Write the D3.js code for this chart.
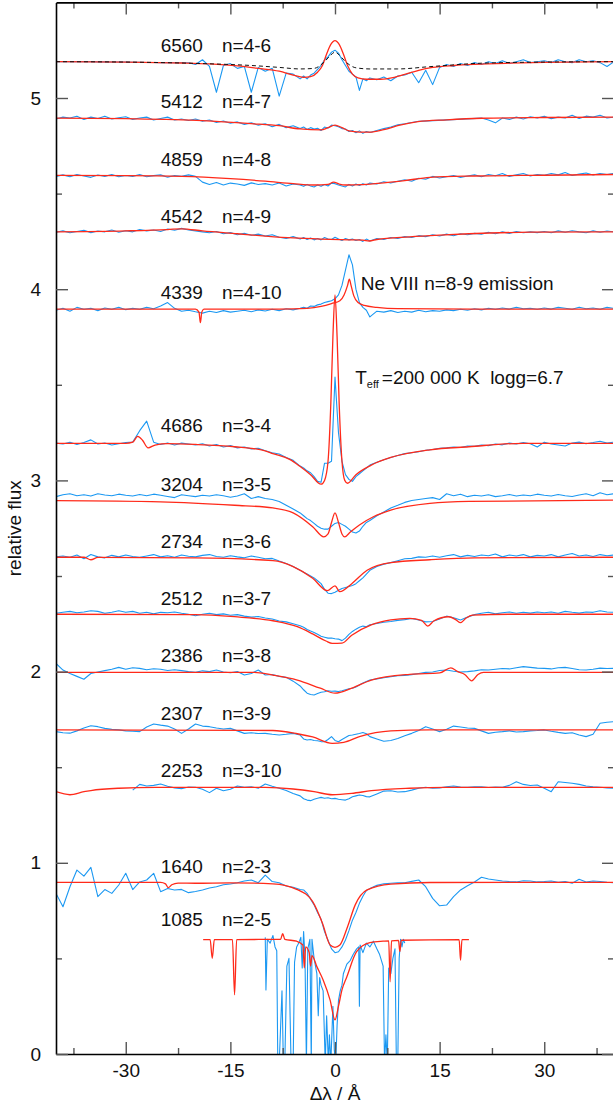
<!DOCTYPE html>
<html>
<head>
<meta charset="utf-8">
<script src="https://cdn.jsdelivr.net/npm/d3@7"></script>
<style>
    body { margin: 0; background: #fff; }
    #chart { width: 613px; height: 1108px; }
    text { font-family: "Liberation Sans", Arial, sans-serif; }
</style>
</head>
<body>
<div id="chart"></div>
<script>
// wavelength offsets (A) at which the observed spectra are sampled
const waveGrid = [
    -40,-39,-38,-37,-36,-35,-34,-33,-32,-31,
    -30,-29,-28,-27,-26,-25,-24,-23,-22,-21,
    -20,-19,-18,-17,-16,-15,-14,-13,-12,-11,
    -10,-9,-8,-7,-6,-5,-4.5,-4,-3.5,-3,
    -2.5,-2,-1.5,-1,-0.5,0,0.5,1,1.5,2,
    2.5,3,3.5,4,4.5,5,6,7,8,9,
    10,11,12,13,14,15,16,17,18,19,
    20,21,22,23,24,25,26,27,28,29,
    30,31,32,33,34,35,36,37,38,39,
    40];

// observed spectra (blue), one value per waveGrid entry, null = no data
const obs6560 = [
    5.19,5.19,5.19,5.19,5.19,5.19,5.189,5.189,5.188,5.188,
    5.188,5.187,5.187,5.186,5.186,5.185,5.185,5.184,5.184,5.184,
    5.175,5.2,5.165,5.03,5.17,5.18,5.155,5.165,5.03,5.16,
    5.14,5.155,5.01,5.13,5.125,5.1,5.115,5.1,5.12,5.13,
    5.15,5.17,5.2,5.215,5.24,5.25,5.235,5.2,5.17,5.14,
    5.125,5.11,5.04,5.1,5.09,5.105,5.095,5.11,5.09,5.115,
    5.12,5.135,5.08,5.145,5.07,5.16,5.175,5.165,5.18,5.17,
    5.185,5.175,5.19,5.18,5.195,5.18,5.19,5.2,5.185,5.19,
    5.195,5.185,5.2,5.19,5.185,5.2,5.19,5.195,5.185,5.165,
    5.19];
const obs5412 = [
    4.89,4.9,4.895,4.905,4.888,4.9,4.893,4.905,4.89,4.897,
    4.902,4.888,4.895,4.9,4.885,4.893,4.9,4.885,4.89,4.882,
    4.89,4.878,4.885,4.872,4.88,4.868,4.875,4.862,4.87,4.858,
    4.865,4.85,4.862,4.845,4.855,4.84,4.848,4.835,4.845,4.838,
    4.842,4.83,4.848,4.842,4.858,4.855,4.85,4.84,4.838,4.825,
    4.83,4.818,4.828,4.815,4.825,4.82,4.83,4.84,4.848,4.86,
    4.865,4.872,4.878,null,null,null,null,null,null,null,
    null,4.895,4.885,4.87,4.895,4.888,4.9,4.89,4.902,4.895,
    4.905,4.892,4.9,4.895,4.91,4.893,4.905,4.9,4.91,4.895,
    4.9];
const obs4859 = [
    4.59,4.598,4.588,4.6,4.592,4.585,4.597,4.59,4.6,4.588,
    4.595,4.59,4.6,4.588,4.594,4.598,4.586,4.595,4.59,4.598,
    4.59,4.56,4.548,4.558,4.545,4.555,4.55,4.543,4.556,4.548,
    4.552,4.545,4.555,4.54,4.55,4.545,4.538,4.548,4.54,4.535,
    4.545,4.538,4.548,4.54,4.555,4.552,4.545,4.54,4.535,4.548,
    4.54,4.55,4.542,4.552,4.545,4.555,4.55,4.562,4.555,4.565,
    4.572,4.565,4.58,4.575,4.59,4.582,4.588,4.595,4.585,4.592,
    4.598,4.588,4.6,4.593,4.605,4.59,4.598,4.605,4.592,4.6,
    4.596,4.605,4.598,4.61,4.595,4.602,4.608,4.597,4.605,4.6,
    4.605];
const obs4542 = [
    4.298,4.305,4.295,4.302,4.308,4.296,4.304,4.3,4.31,4.298,
    4.306,4.3,4.312,4.305,4.31,4.302,4.315,4.308,4.318,4.31,
    4.305,4.3,4.295,4.302,4.29,4.296,4.285,4.292,4.282,4.288,
    4.278,4.285,4.272,4.265,4.275,4.262,4.27,4.26,4.268,4.258,
    4.265,4.258,4.27,4.262,4.26,4.272,4.262,4.255,4.265,4.258,
    4.262,4.255,4.26,4.25,4.262,4.252,4.265,4.26,4.27,4.265,
    4.275,4.27,4.28,4.275,4.285,4.278,4.288,4.28,4.29,4.285,
    4.292,4.288,4.298,4.29,4.3,4.292,4.302,4.295,4.3,4.296,
    4.302,4.295,4.305,4.298,4.306,4.3,4.295,4.305,4.298,4.304,
    4.3];
const obs4339 = [
    3.89,3.9,3.885,3.905,3.895,3.9,3.888,3.902,3.895,3.905,
    3.893,3.9,3.895,3.905,3.898,3.912,3.93,3.9,3.885,3.89,
    3.882,3.875,3.885,3.878,3.888,3.88,3.885,3.89,3.882,3.892,
    3.886,3.895,3.888,3.898,3.892,3.9,3.905,3.9,3.912,3.91,
    3.918,3.922,3.93,3.935,3.94,3.95,3.97,4.02,4.1,4.18,
    4.127,4.0,3.93,3.905,3.89,3.855,3.885,3.88,3.888,3.878,
    3.885,3.88,3.89,3.882,3.888,3.885,3.892,3.888,3.895,3.89,
    3.898,3.892,3.9,3.895,3.902,3.896,3.905,3.898,3.9,3.895,
    3.902,3.896,3.905,3.9,3.895,3.906,3.898,3.902,3.895,3.905,
    3.9];
const obs4686 = [
    3.195,3.19,3.2,3.188,3.198,3.212,3.19,3.196,3.185,3.192,
    3.198,3.2,3.26,3.31,3.2,3.188,3.196,3.185,3.195,3.19,
    3.185,3.192,3.18,3.188,3.175,3.182,3.17,3.175,3.165,3.168,
    3.155,3.145,3.138,3.12,3.105,3.075,3.065,3.05,3.04,3.02,
    2.995,2.99,3.09,3.09,3.1,3.54,3.25,3.1,3.03,3.005,
    2.995,3.02,3.035,3.05,3.065,3.08,3.095,3.108,3.12,3.13,
    3.14,3.145,3.15,3.158,3.162,3.168,3.17,3.175,3.172,3.18,
    3.178,3.185,3.182,3.19,3.186,3.195,3.19,3.198,3.192,3.175,
    3.2,3.19,3.185,3.18,3.196,3.2,3.192,3.198,3.205,3.195,
    3.2];
const obs3204 = [
    2.915,2.925,2.93,2.92,2.925,2.918,2.93,2.924,2.92,2.928,
    2.922,2.918,2.926,2.92,2.928,2.922,2.916,2.91,2.925,2.92,
    2.915,2.922,2.918,2.925,2.92,2.912,2.918,2.93,2.905,2.915,
    2.905,2.9,2.89,2.87,2.85,2.83,2.815,2.8,2.79,2.775,
    2.76,2.75,2.745,2.745,2.76,2.775,2.78,2.77,2.76,2.745,
    2.73,2.725,2.735,2.76,2.78,2.79,2.815,2.835,2.856,2.87,
    2.885,2.895,2.9,2.905,2.91,2.9,2.93,2.92,2.928,2.915,
    2.922,2.918,2.925,2.915,2.92,2.926,2.918,2.924,2.92,2.928,
    2.922,2.918,2.926,2.92,2.916,2.924,2.93,2.92,2.935,2.925,
    2.93];
const obs2734 = [
    2.6,2.605,2.598,2.61,2.59,2.612,2.6,2.595,2.608,2.6,
    2.61,2.602,2.598,2.605,2.612,2.6,2.606,2.598,2.61,2.603,
    2.6,2.608,2.612,2.602,2.598,2.606,2.6,2.595,2.605,2.598,
    2.59,2.592,2.578,2.565,2.55,2.53,2.52,2.51,2.5,2.49,
    2.475,2.46,2.43,2.41,2.408,2.415,2.425,2.435,2.44,2.445,
    2.45,2.46,2.475,2.49,2.51,2.53,2.55,2.562,2.57,2.58,
    2.59,2.592,2.6,2.598,2.605,2.598,2.606,2.612,2.6,2.608,
    2.602,2.61,2.606,2.615,2.6,2.61,2.605,2.612,2.6,2.608,
    2.605,2.612,2.6,2.61,2.618,2.605,2.61,2.602,2.612,2.606,
    2.61];
const obs2512 = [
    2.305,2.31,2.315,2.308,2.312,2.318,2.315,2.305,2.31,2.318,
    2.31,2.315,2.305,2.31,2.302,2.31,2.308,2.312,2.305,2.3,
    2.292,2.3,2.305,2.298,2.302,2.295,2.298,2.29,2.285,2.288,
    2.28,2.275,2.265,2.26,2.25,2.24,2.232,2.22,2.212,2.205,
    2.195,2.185,2.18,2.175,2.176,2.172,2.17,2.162,2.175,2.195,
    2.21,2.222,2.232,2.238,2.235,2.245,2.252,2.258,2.262,2.268,
    2.272,2.278,2.27,2.26,2.262,2.275,2.29,2.282,2.27,2.285,
    2.298,2.305,2.31,2.302,2.308,2.312,2.305,2.31,2.306,2.312,
    2.308,2.312,2.305,2.315,2.31,2.306,2.312,2.31,2.318,2.312,
    2.31];
const obs2386 = [
    2.043,2.008,1.99,1.975,1.96,1.99,1.998,2.005,2.012,2.022,
    2.012,2.02,2.017,2.01,2.015,2.012,2.006,2.01,2.005,2.0,
    1.996,2.004,2.0,2.008,1.998,1.994,2.0,1.982,1.99,2.008,
    1.982,1.985,1.975,1.97,1.95,1.925,1.905,1.887,1.88,1.878,
    1.885,1.892,1.895,1.9,1.897,1.898,1.896,1.9,1.905,1.91,
    1.913,1.92,1.93,1.94,1.948,1.956,1.962,1.968,1.973,1.978,
    1.98,1.984,1.99,1.996,1.998,2.006,2.008,2.002,1.998,2.0,
    2.004,2.01,2.008,2.012,2.016,2.014,2.02,2.026,2.022,2.018,
    2.017,2.014,2.02,2.022,2.016,2.01,2.008,2.012,2.018,2.016,
    2.017];
const obs2307 = [
    1.686,1.68,1.678,1.69,1.705,1.717,1.712,1.703,1.698,1.695,
    1.69,1.688,1.686,1.71,1.726,1.72,1.715,1.7,1.677,1.7,
    1.726,1.715,1.712,1.705,1.7,1.703,1.69,1.677,1.68,1.676,
    1.677,1.672,1.668,1.672,1.677,1.668,1.648,1.642,1.645,1.64,
    1.638,1.634,1.633,1.645,1.66,1.64,1.633,1.645,1.655,1.666,
    1.668,1.672,1.676,1.681,1.675,1.66,1.648,1.636,1.64,1.65,
    1.665,1.677,1.692,1.712,1.7,1.686,1.698,1.715,1.71,1.705,
    1.703,1.69,1.677,1.683,1.686,1.69,1.684,1.686,1.69,1.692,
    1.695,1.688,1.682,1.677,1.68,1.668,1.66,1.672,1.73,1.735,
    1.738];
const obs2253 = [
    null,null,null,null,null,null,null,null,null,null,
    null,1.38,1.41,1.402,1.405,1.412,1.4,1.392,1.388,1.396,
    1.395,1.385,1.367,1.39,1.377,1.385,1.402,1.395,1.398,1.39,
    1.412,1.4,1.39,1.378,1.363,1.35,1.335,1.328,1.325,1.332,
    1.338,1.342,1.338,1.34,1.335,1.337,1.332,1.33,1.328,1.335,
    1.345,1.35,1.355,1.352,1.346,1.345,1.36,1.375,1.377,1.37,
    1.372,1.38,1.39,1.395,1.39,1.392,1.398,1.402,1.396,1.395,
    1.397,1.398,1.394,1.396,1.395,1.405,1.424,1.41,1.404,1.407,
    1.39,1.372,1.424,1.42,1.416,1.41,1.402,1.398,1.395,1.392,
    1.39];
const obs1640 = [
    0.84,0.77,0.875,0.962,0.93,0.976,0.823,0.86,0.84,0.884,
    0.945,0.86,0.9,0.91,0.945,0.849,0.866,0.858,0.861,0.844,
    0.85,0.858,0.868,0.875,0.885,0.889,0.896,0.905,0.91,0.896,
    0.936,0.902,0.896,0.879,0.872,0.86,0.858,0.84,0.81,0.78,
    0.74,0.705,0.64,0.595,0.55,0.53,0.535,0.56,0.596,0.645,
    0.7,0.74,0.788,0.825,0.855,0.865,0.882,0.89,0.893,0.895,
    0.896,0.903,0.91,0.875,0.814,0.775,0.779,0.823,0.858,0.88,
    0.9,0.924,0.915,0.91,0.905,0.902,0.9,0.906,0.905,0.9,
    0.902,0.905,0.898,0.902,0.893,0.914,0.9,0.905,0.902,0.898,
    0.896];
// Lyman-band observation, irregular sampling [offset, flux]
const obs1085 = [
    [-10,0.61],[-9.9,0.335],[-9.7,0.6],[-9.3,0.58],[-8.9,0.62],[-8.6,0.56],[-8.35,0.54],
    [-8.2,-0.05],[-8,-0.05],[-7.6,0.33],[-7.4,-0.05],[-7.2,-0.05],[-6.9,0.46],[-6.6,0.5],
    [-6.3,-0.05],[-6,-0.05],[-5.8,0.48],[-5.5,0.56],[-5.2,0.58],[-4.9,0.61],[-4.7,0.45],
    [-4.5,0.64],[-4.3,0.5],[-4.1,-0.05],[-3.9,0.55],[-3.6,0.6],[-3.4,-0.05],[-3.3,0.6],
    [-3,0.5],[-2.6,0.42],[-2.4,0.2],[-2.2,0.4],[-2,0.36],[-1.7,0.33],[-1.4,-0.05],
    [-1.2,0.2],[-0.95,-0.05],[-0.8,0.1],[-0.6,-0.05],[-0.3,0.25],[-0.1,0.02],[0.1,-0.05],
    [0.3,0.15],[0.5,0.28],[0.75,0.33],[1,0.36],[1.2,0.42],[1.7,0.47],[2.2,0.49],[2.6,0.52],
    [3.1,0.55],[3.4,0.56],[3.5,0.25],[3.6,0.57],[4,0.53],[4.5,0.58],[5,0.56],[5.5,0.59],
    [6,0.55],[6.4,0.52],[6.9,0.46],[7.1,-0.05],[7.3,0.1],[7.5,-0.05],[7.7,0.45],[8,0.42],
    [8.3,0.5],[8.6,0.55],[8.8,-0.05],[9,-0.05],[9.2,0.5],[9.4,0.6],[9.6,0.56],[9.8,0.6],[10,0.58]];

// model spectra (red) [offset, flux]
const mod6560 = [[-40,5.19],[-30,5.188],[-22,5.183],[-18,5.178],[-14,5.168],[-11,5.155],[-8,5.14],[-6,5.12],[-4.5,5.108],[-3.5,5.112],[-2.5,5.135],[-1.8,5.17],[-1.2,5.23],[-0.6,5.28],[0,5.3],[0.6,5.28],[1.2,5.23],[1.8,5.17],[2.5,5.125],[3.3,5.105],[4.5,5.098],[6.5,5.098],[8.5,5.108],[10,5.123],[12,5.145],[14,5.16],[17,5.17],[20,5.176],[25,5.182],[30,5.186],[40,5.19]];
const dash6560 = [[-40,5.19],[-30,5.188],[-19,5.18],[-12,5.17],[-8,5.16],[-5,5.152],[-3,5.155],[-1.5,5.19],[-0.6,5.225],[0,5.24],[0.6,5.225],[1.5,5.19],[3,5.158],[5,5.152],[9,5.152],[13.6,5.164],[21,5.182],[30,5.188],[40,5.19]];
const mod5412 = [[-40,4.895],[-30,4.892],[-19,4.882],[-12,4.866],[-8,4.855],[-5,4.838],[-2,4.833],[-1,4.845],[0,4.858],[1,4.845],[2,4.828],[3.5,4.822],[5,4.822],[7,4.835],[9.3,4.858],[11.9,4.876],[16,4.886],[21,4.894],[30,4.898],[40,4.9]];
const mod4859 = [[-40,4.595],[-30,4.594],[-22,4.59],[-15,4.578],[-10,4.565],[-6,4.552],[-3,4.545],[-1,4.548],[-0.2,4.56],[0.6,4.55],[1.5,4.545],[4,4.547],[7,4.556],[10,4.568],[13.6,4.585],[20,4.592],[30,4.596],[40,4.6]];
const mod4542 = [[-40,4.3],[-30,4.305],[-24,4.312],[-22,4.316],[-19,4.305],[-14,4.29],[-10,4.278],[-6,4.268],[-2,4.262],[2,4.258],[4,4.257],[4.9,4.252],[6,4.26],[10.7,4.274],[15,4.283],[19.2,4.29],[28,4.298],[40,4.3]];
const mod4339 = [[-40,3.896],[-20,3.896],[-19.5,3.88],[-19.3,3.825],[-19.1,3.88],[-18.8,3.896],[-8,3.896],[-4,3.9],[-2,3.91],[-0.5,3.925],[0.7,3.94],[1.3,3.97],[1.8,4.02],[2.05,4.052],[2.3,4.02],[2.7,3.965],[3.3,3.93],[4.2,3.915],[6,3.905],[9,3.898],[20,3.896],[40,3.896]];
const mod4686 = [[-40,3.194],[-30,3.194],[-29,3.2],[-28.3,3.23],[-27.6,3.21],[-26.8,3.17],[-25.8,3.185],[-24,3.192],[-20,3.188],[-14.4,3.176],[-10,3.155],[-8.9,3.14],[-6.5,3.11],[-4.9,3.07],[-3.5,3.03],[-2,2.98],[-1.5,3.0],[-1,3.1],[-0.6,3.4],[-0.3,3.75],[0,3.97],[0.3,3.75],[0.6,3.4],[1,3.1],[1.4,3.0],[1.8,2.985],[3,3.03],[5.2,3.08],[8,3.12],[13.6,3.16],[19.2,3.176],[26.9,3.194],[40,3.194]];
const mod3204 = [[-40,2.894],[-25,2.888],[-14.4,2.87],[-8.9,2.856],[-6,2.83],[-3.2,2.758],[-1.6,2.705],[-1,2.72],[-0.5,2.78],[0,2.83],[0.5,2.78],[1,2.72],[1.4,2.705],[2.2,2.73],[3.5,2.767],[5.5,2.81],[8,2.845],[13.6,2.88],[19.2,2.89],[40,2.897]];
const mod2734 = [[-40,2.598],[-36,2.598],[-35,2.585],[-34,2.597],[-20,2.595],[-8.9,2.58],[-6,2.549],[-3.2,2.488],[-1.1,2.423],[0,2.448],[0.7,2.418],[2.4,2.46],[4.6,2.53],[8,2.57],[13.6,2.585],[20,2.595],[40,2.598]];
const mod2512 = [[-40,2.3],[-20,2.298],[-14.4,2.287],[-8.9,2.266],[-5.4,2.235],[-3.2,2.197],[-1.3,2.16],[-0.4,2.148],[1,2.149],[2.4,2.19],[5.2,2.244],[8,2.27],[10.7,2.278],[12.4,2.268],[13.3,2.238],[14.2,2.266],[16.3,2.287],[17.3,2.272],[18,2.256],[18.8,2.28],[19.7,2.295],[25,2.3],[40,2.3]];
const mod2386 = [[-40,1.996],[-11.6,1.996],[-8.9,1.982],[-5.4,1.956],[-2.1,1.913],[0,1.887],[2.4,1.913],[5.2,1.956],[10.7,1.986],[15,1.993],[16.6,2.02],[17.6,2.0],[18.6,1.985],[19.6,1.952],[20.5,1.985],[21.3,1.996],[40,1.996]];
const mod2307 = [[-40,1.695],[-8.9,1.692],[-5.4,1.675],[-3.2,1.658],[-0.4,1.625],[1.25,1.63],[3.5,1.66],[8,1.69],[13.6,1.695],[40,1.695]];
const mod2253 = [[-40,1.372],[-38,1.356],[-36,1.372],[-35,1.378],[-31,1.39],[-25.6,1.395],[-10,1.394],[-6,1.386],[-3,1.372],[-0.4,1.356],[2.4,1.363],[5.2,1.377],[10.7,1.39],[16,1.395],[40,1.395]];
const mod1640 = [[-40,0.898],[-25,0.898],[-24.3,0.89],[-23.9,0.87],[-23.4,0.885],[-22.5,0.894],[-20,0.893],[-15,0.895],[-8.9,0.89],[-5.4,0.86],[-3.2,0.797],[-1.8,0.684],[-0.7,0.57],[0,0.558],[0.7,0.57],[1.8,0.666],[2.9,0.78],[4.6,0.858],[8,0.889],[13.6,0.897],[40,0.898]];
const mod1085 = [[-18.9,0.598],[-17.9,0.598],[-17.6,0.5],[-17.3,0.598],[-14.7,0.598],[-14.4,0.31],[-14.1,0.598],[-7.8,0.6],[-7.5,0.63],[-7.2,0.6],[-5.5,0.59],[-4.6,0.57],[-4.4,0.45],[-4.2,0.56],[-3.7,0.53],[-3.5,0.46],[-3.3,0.515],[-2.6,0.457],[-1.7,0.387],[-0.7,0.282],[0,0.178],[0.5,0.25],[1,0.335],[1.7,0.404],[3.1,0.535],[5,0.582],[6.9,0.59],[7.7,0.592],[7.9,0.378],[8.1,0.592],[9.1,0.594],[9.3,0.535],[9.5,0.595],[17.8,0.598],[18,0.49],[18.2,0.598],[19.2,0.598]];

// line labels: rest wavelength, transition, label height (flux units)
const lineNames = ["6560","5412","4859","4542","4339","4686","3204","2734","2512","2386","2307","2253","1640","1085"];
const lineTrans = ["n=4-6","n=4-7","n=4-8","n=4-9","n=4-10","n=3-4","n=3-5","n=3-6","n=3-7","n=3-8","n=3-9","n=3-10","n=2-3","n=2-5"];
const labelFlux = [5.24,4.948,4.644,4.346,3.949,3.253,2.947,2.646,2.348,2.05,1.747,1.449,0.948,0.669];

// axis ticks
const xMajor = [-30,-15,0,15,30];
const xMinor = [-37.5,-22.5,-7.5,7.5,22.5,37.5];
const yMajor = [0,1,2,3,4,5];
const yMinor = [0.5,1.5,2.5,3.5,4.5];

class SpectraChart {
    constructor(parentElement) {
        this.parentElement = parentElement;
        this.gridSpectra = [obs6560, obs5412, obs4859, obs4542, obs4339, obs4686, obs3204,
            obs2734, obs2512, obs2386, obs2307, obs2253, obs1640];
        this.models = [mod6560, mod5412, mod4859, mod4542, mod4339, mod4686, mod3204,
            mod2734, mod2512, mod2386, mod2307, mod2253, mod1640, mod1085];

        this.initVis();
    }

    initVis() {
        let vis = this;

        vis.width = 613;
        vis.height = 1108;

        vis.svg = d3.select("#" + vis.parentElement).append("svg")
            .attr("width", vis.width)
            .attr("height", vis.height);

        vis.x = d3.scaleLinear().domain([-40, 40]).range([56, 614]);
        vis.y = d3.scaleLinear().domain([0, 5.5]).range([1054, 2.4]);

        vis.svg.append("defs").append("clipPath")
            .attr("id", "plotClip")
            .append("rect")
            .attr("x", vis.x(-40))
            .attr("y", vis.y(5.5))
            .attr("width", vis.x(40) - vis.x(-40))
            .attr("height", vis.y(0) - vis.y(5.5));

        vis.plot = vis.svg.append("g").attr("clip-path", "url(#plotClip)");

        vis.line = d3.line()
            .x(d => vis.x(d[0]))
            .y(d => vis.y(d[1]));

        vis.smooth = d3.line()
            .x(d => vis.x(d[0]))
            .y(d => vis.y(d[1]))
            .curve(d3.curveMonotoneX);

        vis.wrangleData();
    }

    wrangleData() {
        let vis = this;

        // pair the grid spectra with their wavelengths, gaps get bridged
        vis.observed = vis.gridSpectra.map(arr =>
            waveGrid.map((w, i) => [w, arr[i]]).filter(d => d[1] !== null));
        vis.observed.push(obs1085);

        vis.updateVis();
    }

    updateVis() {
        let vis = this;

        vis.plot.selectAll(".obs")
            .data(vis.observed)
            .enter().append("path")
            .attr("class", "obs")
            .attr("d", vis.line)
            .attr("fill", "none")
            .attr("stroke", "#1b98f2")
            .attr("stroke-width", 1.1)
            .attr("stroke-linejoin", "round");

        vis.plot.selectAll(".model")
            .data(vis.models)
            .enter().append("path")
            .attr("class", "model")
            .attr("d", vis.smooth)
            .attr("fill", "none")
            .attr("stroke", "#ff2a1a")
            .attr("stroke-width", 1.3);

        vis.plot.append("path")
            .datum(dash6560)
            .attr("d", vis.smooth)
            .attr("fill", "none")
            .attr("stroke", "#111")
            .attr("stroke-width", 1)
            .attr("stroke-dasharray", "4,3");

        // spectrum labels
        let labels = vis.svg.append("g")
            .attr("font-size", 19)
            .attr("fill", "#111");
        labels.selectAll(".name")
            .data(lineNames)
            .enter().append("text")
            .attr("x", vis.x(-25))
            .attr("y", (d, i) => vis.y(labelFlux[i]))
            .text(d => d);
        labels.selectAll(".trans")
            .data(lineTrans)
            .enter().append("text")
            .attr("x", vis.x(-16.2))
            .attr("y", (d, i) => vis.y(labelFlux[i]))
            .text(d => d);

        labels.append("text")
            .attr("x", vis.x(3.7))
            .attr("y", vis.y(3.996))
            .text("Ne VIII n=8-9 emission");

        let teff = labels.append("text")
            .attr("x", vis.x(2.9))
            .attr("y", vis.y(3.504))
            .style("white-space", "pre");
        teff.append("tspan").text("T");
        teff.append("tspan").attr("font-size", 11).attr("dy", 4).text("eff");
        teff.append("tspan").attr("dy", -4).attr("dx", 3).text("=200 000 K  logg=6.7");

        vis.drawAxes();
    }

    drawAxes() {
        let vis = this;
        let fmt = d => String(d);

        let styleAxis = (g, len) => {
            g.select(".domain").attr("stroke", "#000").attr("stroke-width", 1.6);
            g.selectAll(".tick line").attr("stroke", "#555").attr("stroke-width", 1.4);
            g.selectAll("text")
                .attr("font-size", 19)
                .attr("font-family", "Liberation Sans, Arial, sans-serif")
                .attr("fill", "#111");
        };

        // bottom
        vis.svg.append("g")
            .attr("transform", `translate(0, ${vis.y(0)})`)
            .call(d3.axisBottom(vis.x).tickValues(xMinor).tickSizeInner(-6).tickSizeOuter(0).tickFormat(""))
            .call(g => g.select(".domain").remove())
            .call(styleAxis);
        vis.svg.append("g")
            .attr("transform", `translate(0, ${vis.y(0)})`)
            .call(d3.axisBottom(vis.x).tickValues(xMajor).tickSizeInner(-12).tickSizeOuter(0).tickPadding(10).tickFormat(fmt))
            .call(styleAxis);

        // top
        vis.svg.append("g")
            .attr("transform", `translate(0, ${vis.y(5.5)})`)
            .call(d3.axisTop(vis.x).tickValues(xMinor).tickSizeInner(-6).tickSizeOuter(0).tickFormat(""))
            .call(g => g.select(".domain").remove())
            .call(styleAxis);
        vis.svg.append("g")
            .attr("transform", `translate(0, ${vis.y(5.5)})`)
            .call(d3.axisTop(vis.x).tickValues(xMajor).tickSizeInner(-12).tickSizeOuter(0).tickFormat(""))
            .call(styleAxis);

        // left
        vis.svg.append("g")
            .attr("transform", `translate(${vis.x(-40)}, 0)`)
            .call(d3.axisLeft(vis.y).tickValues(yMinor).tickSizeInner(-6).tickSizeOuter(0).tickFormat(""))
            .call(g => g.select(".domain").remove())
            .call(styleAxis);
        vis.svg.append("g")
            .attr("transform", `translate(${vis.x(-40)}, 0)`)
            .call(d3.axisLeft(vis.y).tickValues(yMajor).tickSizeInner(-12).tickSizeOuter(0).tickPadding(15).tickFormat(fmt))
            .call(styleAxis);

        // right
        vis.svg.append("g")
            .attr("transform", `translate(${vis.x(40)}, 0)`)
            .call(d3.axisRight(vis.y).tickValues(yMinor).tickSizeInner(-6).tickSizeOuter(0).tickFormat(""))
            .call(g => g.select(".domain").remove())
            .call(styleAxis);
        vis.svg.append("g")
            .attr("transform", `translate(${vis.x(40)}, 0)`)
            .call(d3.axisRight(vis.y).tickValues(yMajor).tickSizeInner(-12).tickSizeOuter(0).tickFormat(""))
            .call(styleAxis);

        // axis titles
        vis.svg.append("text")
            .attr("x", vis.x(0))
            .attr("y", 1100)
            .attr("text-anchor", "middle")
            .attr("font-size", 19)
            .attr("fill", "#111")
            .text("\u0394\u03bb / \u00c5");

        vis.svg.append("text")
            .attr("transform", `translate(21, ${(vis.y(0) + vis.y(5.5)) / 2}) rotate(-90)`)
            .attr("text-anchor", "middle")
            .attr("font-size", 19)
            .attr("fill", "#111")
            .text("relative flux");
    }
}

new SpectraChart("chart");
</script>
</body>
</html>
